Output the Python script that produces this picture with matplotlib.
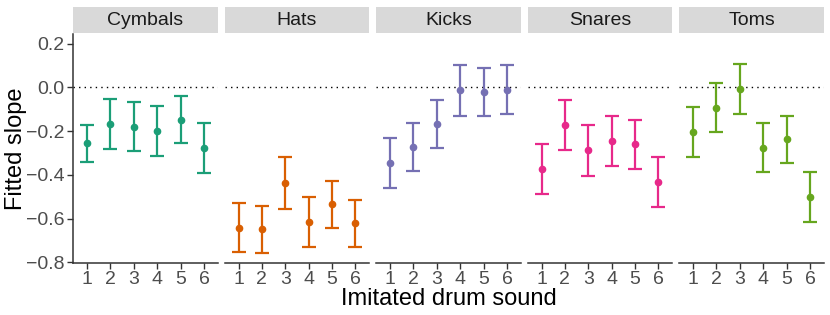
import matplotlib
matplotlib.use("Agg")
import matplotlib.pyplot as plt
from matplotlib.patches import Rectangle

plt.rcParams['font.family'] = ['Liberation Sans', 'DejaVu Sans']

categories = ["Cymbals", "Hats", "Kicks", "Snares", "Toms"]
sounds = [1, 2, 3, 4, 5, 6]
colors = ["#1B9E77", "#D95F02", "#7570B3", "#E7298A", "#66A61E"]

estimate = {
    "Cymbals": [-0.255, -0.167, -0.179, -0.199, -0.147, -0.275],
    "Hats":    [-0.643, -0.648, -0.438, -0.616, -0.535, -0.622],
    "Kicks":   [-0.346, -0.273, -0.168, -0.013, -0.022, -0.010],
    "Snares":  [-0.374, -0.171, -0.288, -0.244, -0.261, -0.433],
    "Toms":    [-0.205, -0.094, -0.007, -0.276, -0.238, -0.501],
}
upper = {
    "Cymbals": [-0.174, -0.051, -0.068, -0.086, -0.040, -0.161],
    "Hats":    [-0.529, -0.541, -0.320, -0.503, -0.427, -0.514],
    "Kicks":   [-0.232, -0.164, -0.059, 0.103, 0.088, 0.101],
    "Snares":  [-0.261, -0.056, -0.174, -0.132, -0.148, -0.317],
    "Toms":    [-0.092, 0.021, 0.107, -0.162, -0.130, -0.389],
}
lower = {
    "Cymbals": [-0.339, -0.281, -0.293, -0.314, -0.256, -0.390],
    "Hats":    [-0.754, -0.759, -0.556, -0.728, -0.645, -0.731],
    "Kicks":   [-0.459, -0.384, -0.275, -0.130, -0.133, -0.122],
    "Snares":  [-0.488, -0.285, -0.403, -0.358, -0.375, -0.547],
    "Toms":    [-0.319, -0.206, -0.121, -0.389, -0.348, -0.614],
}
yticks = [-0.8, -0.6, -0.4, -0.2, 0.0, 0.2]

W, H = 830, 315
fig, axes = plt.subplots(1, 5, figsize=(W / 100, H / 100), dpi=100, sharey=True)
fig.subplots_adjust(left=73 / W, right=824 / W, top=1 - 34 / H, bottom=1 - 263 / H, wspace=0.045)

axis_col = "#333333"
tick_col = "#4D4D4D"
for i, (ax, cat) in enumerate(zip(axes, categories)):
    est = estimate[cat]
    yerr = [[e - l for e, l in zip(est, lower[cat])], [u - e for e, u in zip(est, upper[cat])]]
    ax.axhline(0, color="black", linestyle=(0, (1, 3)), linewidth=1.0, zorder=1)
    ax.errorbar(sounds, est, yerr=yerr, fmt="o", color=colors[i], markersize=4.5,
                elinewidth=1.6, capsize=5, capthick=1.6, zorder=3)
    ax.set_xlim(0.4, 6.6)
    ax.set_ylim(-0.803, 0.244)
    ax.set_xticks(sounds)
    ax.set_xticklabels([str(s) for s in sounds])
    for s in ["top", "right"]:
        ax.spines[s].set_visible(False)
    ax.spines["bottom"].set_color(axis_col)
    ax.spines["bottom"].set_linewidth(1.1)
    ax.tick_params(axis="x", colors=axis_col, labelcolor=tick_col, labelsize=14, length=4, width=1, pad=2)
    if i == 0:
        ax.spines["left"].set_color(axis_col)
        ax.spines["left"].set_linewidth(1.1)
        ax.set_yticks(yticks)
        ax.set_yticklabels(["\u22120.8", "\u22120.6", "\u22120.4", "\u22120.2", "0.0", "0.2"])
        ax.tick_params(axis="y", colors=axis_col, labelcolor=tick_col, labelsize=14, length=4, width=1, pad=2)
    else:
        ax.spines["left"].set_visible(False)
        ax.tick_params(axis="y", left=False, labelleft=False)
    rect = Rectangle((0, 1.0 + 1 / 229), 1, 26 / 229, transform=ax.transAxes,
                     facecolor="#D9D9D9", edgecolor="none", clip_on=False)
    ax.add_patch(rect)
    ax.text(0.5, 1.0 + 14 / 229, cat, transform=ax.transAxes, ha="center", va="center",
            fontsize=14, color="#1A1A1A")

fig.text(16 / W, 1 - 149 / H, "Fitted slope", rotation=90, ha="center", va="center", fontsize=17)
fig.text((73 + 824) / 2 / W, 1 - 299 / H, "Imitated drum sound", ha="center", va="center", fontsize=17)

fig.savefig("out.png", dpi=100)
